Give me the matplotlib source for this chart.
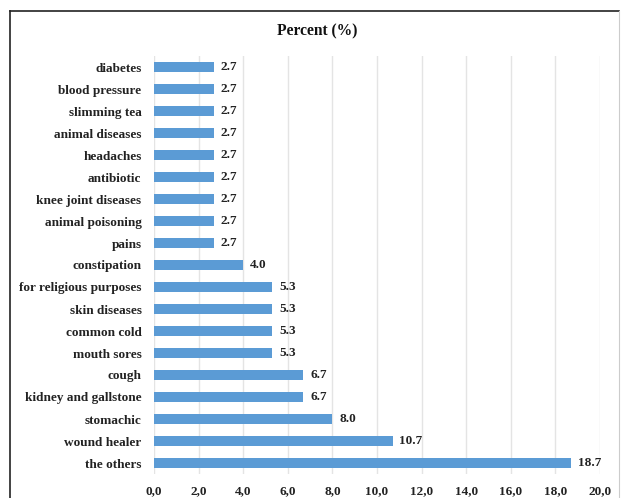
import matplotlib
matplotlib.use("Agg")
import matplotlib.pyplot as plt
from matplotlib.lines import Line2D

categories = ["diabetes", "blood pressure", "slimming tea", "animal diseases", "headaches",
              "antibiotic", "knee joint diseases", "animal poisoning", "pains", "constipation",
              "for religious purposes", "skin diseases", "common cold", "mouth sores", "cough",
              "kidney and gallstone", "stomachic", "wound healer", "the others"]
values = [2.7, 2.7, 2.7, 2.7, 2.7, 2.7, 2.7, 2.7, 2.7, 4.0,
          5.3, 5.3, 5.3, 5.3, 6.7, 6.7, 8.0, 10.7, 18.7]
xticks = [0, 2, 4, 6, 8, 10, 12, 14, 16, 18, 20]
xtick_labels = ["0,0", "2,0", "4,0", "6,0", "8,0", "10,0", "12,0", "14,0", "16,0", "18,0", "20,0"]
title = "Percent (%)"

plt.rcParams['font.family'] = ['Liberation Serif', 'DejaVu Serif']
plt.rcParams['font.weight'] = 'bold'

fig = plt.figure(figsize=(6.21, 4.98), dpi=100)
ax = fig.add_axes([154/621, 1-474/498, (600-154)/621, (474-56)/498])

n = len(categories)
ypos = list(range(n))[::-1]
ax.barh(ypos, values, height=0.41, color="#5B9BD5", zorder=3)
for y, v in zip(ypos, values):
    ax.text(v + 0.3, y, f"{v:.1f}", va="center", ha="left", fontsize=9.5, fontweight="bold", color="#222222")

ax.set_yticks(ypos)
ax.set_yticklabels(categories, fontsize=9.5, fontweight="bold", color="#222222")
ax.set_xticks(xticks)
ax.set_xticklabels(xtick_labels, fontsize=9.5, fontweight="bold", color="#222222")
ax.set_xlim(0, 20)
ax.set_ylim(-0.5, n - 0.5)
ax.tick_params(axis='y', length=0, pad=9)
ax.tick_params(axis='x', length=0, pad=8)
ax.grid(axis='x', color="#e4e4e4", linewidth=1, zorder=0)
for s in ax.spines.values():
    s.set_visible(False)

fig.text(317/621, 1-31/498, title, ha="center", va="center", fontsize=11.2, fontweight="bold", color="#111111")

# outer frame
x0, x1 = 10/621, 619/621
y1 = 1-11.5/498
fig.add_artist(Line2D([x0, x0], [-0.01, y1], transform=fig.transFigure, color="#222222", linewidth=1.2))
fig.add_artist(Line2D([x0, x1], [y1, y1], transform=fig.transFigure, color="#222222", linewidth=1.2))
fig.add_artist(Line2D([x1, x1], [-0.01, y1], transform=fig.transFigure, color="#cccccc", linewidth=0.8))

fig.savefig("out.png", dpi=100)
